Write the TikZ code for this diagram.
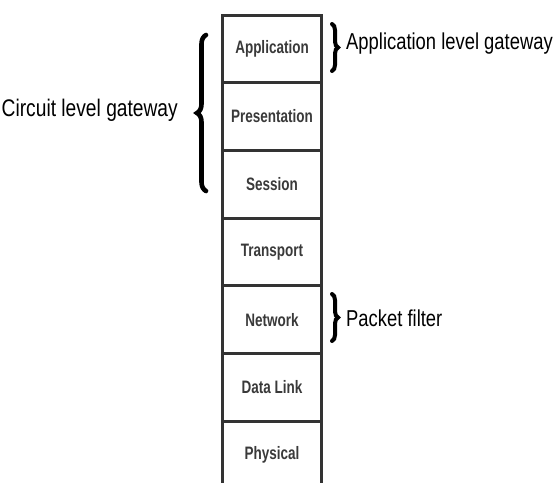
\documentclass[tikz,border=0pt]{standalone}
\usepackage{fontspec}
\setmainfont{Liberation Sans}
\newfontfamily\boxfont[FakeStretch=0.75]{Liberation Sans}
\newfontfamily\labfont[FakeStretch=0.8]{Liberation Sans}
\usetikzlibrary{decorations.pathreplacing}
\definecolor{boxline}{HTML}{333333}
\definecolor{boxtext}{HTML}{3A3A3A}
\begin{document}
\begin{tikzpicture}[x=1pt,y=-1pt,
  layer/.style={draw=boxline,line width=3pt,minimum width=99pt,minimum height=67.7pt,
    inner sep=0pt,anchor=north west,text=boxtext,font=\boxfont\fontsize{18}{20}\selectfont\bfseries},
  lab/.style={font=\labfont\fontsize{24}{27}\selectfont,text=black,inner sep=0pt},
  labr/.style={font=\labfont\fontsize{23}{26}\selectfont,text=black,inner sep=0pt},
  bracebig/.style={decorate,decoration={brace,amplitude=9pt},line width=4.6pt,line cap=round},
  bracesmall/.style={decorate,decoration={brace,amplitude=6pt},line width=4pt,line cap=round}]
\useasboundingbox (0,0) rectangle (556,482);
\clip (0,0) rectangle (556,482);
\fill[white] (0,0) rectangle (556,482);
\node[layer] (app) at (221,13.5) {Application};
\node[layer] (pres) at (221,81.2) {Presentation};
\node[layer] (sess) at (221,148.9) {Session};
\node[layer] (trans) at (221,216.6) {Transport};
\node[layer] (net) at (221,284.3) {Network};
\node[layer] (dl) at (221,352.0) {Data Link};
\node[layer] (phys) at (221,419.7) {Physical};
% braces
\coordinate (cbt) at (206,35);
\coordinate (cbb) at (206,191);
\draw[bracebig] (cbb) -- (cbt);
\node[lab,anchor=base east] (circ) at (178,116.7) {Circuit level gateway};
\coordinate (abt) at (332,24);
\coordinate (abb) at (332,71);
\draw[bracesmall] (abt) -- (abb);
\node[labr,anchor=base west] (alg) at (346,49.3) {Application level gateway};
\coordinate (pbt) at (332,294);
\coordinate (pbb) at (332,341);
\draw[bracesmall] (pbt) -- (pbb);
\node[labr,anchor=base west] (pf) at (346,326) {Packet filter};
\end{tikzpicture}
\end{document}
